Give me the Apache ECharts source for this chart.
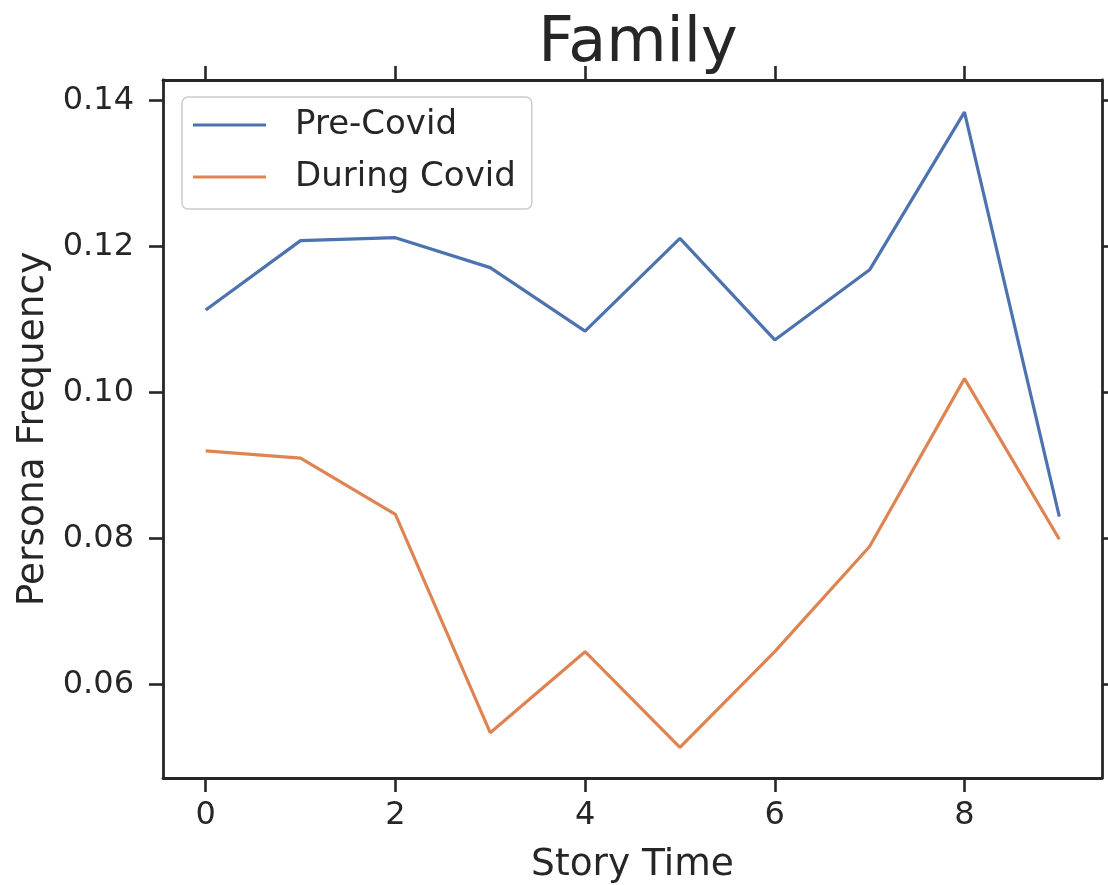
<!DOCTYPE html>
<html>
<head>
<meta charset="utf-8">
<script src="https://cdn.jsdelivr.net/npm/echarts@6/dist/echarts.min.js"></script>
<style>
  html, body { margin: 0; padding: 0; background: #ffffff; }
  #chart { width: 1108px; height: 885px; }
</style>
</head>
<body>
<div id="chart"></div>
<script>
const storyTime = [0, 1, 2, 3, 4, 5, 6, 7, 8, 9];
const preCovid = [0.1113, 0.1208, 0.1212, 0.1171, 0.1084, 0.1211, 0.1072, 0.1168, 0.1384, 0.0830];
const duringCovid = [0.0920, 0.0910, 0.0833, 0.0534, 0.0645, 0.0514, 0.0645, 0.0789, 0.1019, 0.0799];
const xTicks = [0, 2, 4, 6, 8];
const yTicks = [0.06, 0.08, 0.10, 0.12, 0.14];

const ink = '#262626';
const font = 'DejaVu Sans';

const chart = echarts.init(document.getElementById('chart'));

function xAxisDef(pos, showLabels) {
  return {
    type: 'value', position: pos, min: -0.45, max: 9.45,
    name: showLabels ? 'Story Time' : '', nameLocation: 'middle', nameGap: 68,
    nameTextStyle: { fontFamily: font, fontSize: 37.5, color: ink },
    axisLine: { show: true, onZero: false, lineStyle: { color: ink, width: 2.8 } },
    axisTick: { show: true, length: 14, customValues: xTicks, lineStyle: { color: ink, width: 2.6 } },
    axisLabel: { show: showLabels, customValues: xTicks, margin: 22, fontFamily: font, fontSize: 32, color: ink,
      formatter: v => String(v) },
    splitLine: { show: false }
  };
}
function yAxisDef(pos, showLabels) {
  return {
    type: 'value', position: pos, min: 0.0472, max: 0.1428,
    name: showLabels ? 'Persona Frequency' : '', nameLocation: 'middle', nameGap: 111,
    nameTextStyle: { fontFamily: font, fontSize: 37.5, color: ink },
    axisLine: { show: true, onZero: false, lineStyle: { color: ink, width: 2.8 } },
    axisTick: { show: true, length: 14, customValues: yTicks, lineStyle: { color: ink, width: 2.6 } },
    axisLabel: { show: showLabels, customValues: yTicks, margin: 29, fontFamily: font, fontSize: 32, color: ink,
      formatter: v => v.toFixed(2) },
    splitLine: { show: false }
  };
}

chart.setOption({
  animation: false,
  backgroundColor: '#ffffff',
  title: {
    text: 'Family', left: 633, top: 9, textAlign: 'center',
    textStyle: { fontFamily: font, fontSize: 62, fontWeight: 'normal', color: ink }
  },
  legend: {
    orient: 'vertical', left: 182, top: 97,
    icon: 'rect', itemWidth: 73, itemHeight: 3, itemGap: 12,
    padding: [8, 16, 12, 11],
    backgroundColor: 'rgba(255,255,255,0.8)', borderColor: '#cccccc', borderWidth: 1.5, borderRadius: 6,
    textStyle: { fontFamily: font, fontSize: 34, color: ink, lineHeight: 40, padding: [0, 0, 0, 24] },
    data: ['Pre-Covid', 'During Covid']
  },
  grid: { left: 163, top: 80, right: 6, bottom: 107, containLabel: false, outerBoundsMode: 'none' },
  xAxis: [xAxisDef('bottom', true), xAxisDef('top', false)],
  yAxis: [yAxisDef('left', true), yAxisDef('right', false)],
  series: [
    {
      name: 'Pre-Covid', type: 'line', showSymbol: false, symbol: 'none',
      data: storyTime.map((t, i) => [t, preCovid[i]]),
      lineStyle: { color: '#4C72B0', width: 3.2 }, itemStyle: { color: '#4C72B0' }
    },
    {
      name: 'During Covid', type: 'line', showSymbol: false, symbol: 'none',
      data: storyTime.map((t, i) => [t, duringCovid[i]]),
      lineStyle: { color: '#DD8452', width: 3.2 }, itemStyle: { color: '#DD8452' }
    }
  ]
});
</script>
</body>
</html>
